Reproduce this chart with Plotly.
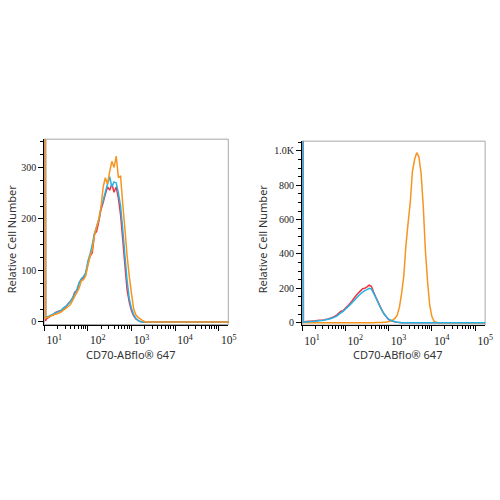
import plotly.graph_objects as go

# ---------------- data ----------------
# left panel: bin centres as log10 exponents of fluorescence
left_exp = [1.012, 1.03, 1.05, 1.10, 1.15, 1.20, 1.25, 1.30, 1.35, 1.40, 1.45, 1.50, 1.55,
            1.60, 1.65, 1.70, 1.75, 1.80, 1.85, 1.90, 1.95, 2.00, 2.05, 2.10, 2.15,
            2.20, 2.25, 2.30, 2.35, 2.40, 2.45, 2.50, 2.55, 2.60, 2.65, 2.70, 2.75,
            2.80, 2.85, 2.90, 2.95, 3.00, 3.05, 3.10, 3.15, 3.20, 3.25, 3.30, 3.35,
            3.40, 3.60, 4.00, 4.50, 5.00, 5.30]
left_red = [1500, 2, 6, 9, 12, 14, 18, 20, 22, 22, 26, 30, 36, 40, 46, 58, 60, 76, 82, 86,
            94, 112, 128, 134, 170, 176, 195, 218, 232, 248, 262, 256, 268, 252, 262,
            240, 208, 160, 110, 62, 38, 22, 12, 6, 3, 1, 0, 0, 0, 0, 0, 0, 0, 0, 0]
left_cyan = [1500, 8, 10, 11, 13, 15, 17, 19, 21, 24, 28, 31, 35, 40, 47, 55, 64, 76, 84,
             88, 96, 118, 132, 150, 172, 185, 198, 222, 236, 252, 268, 282, 262, 272,
             270, 250, 225, 180, 128, 80, 45, 26, 14, 7, 3, 1, 0, 0, 0, 0, 0, 0, 0, 0, 0]
left_orange = [1500, 6, 8, 10, 12, 13, 15, 16, 18, 20, 24, 27, 30, 34, 42, 50, 58, 66, 80,
               82, 90, 110, 128, 140, 168, 185, 200, 222, 262, 280, 268, 292, 312, 300,
               322, 280, 284, 228, 180, 128, 88, 55, 25, 14, 9, 6, 3, 1, 0, 0, 0, 0, 0, 0, 0]

# right panel
right_exp = [1.012, 1.03, 1.05, 1.10, 1.15, 1.20, 1.25, 1.30, 1.35, 1.40, 1.45, 1.50, 1.55,
             1.60, 1.65, 1.70, 1.75, 1.80, 1.85, 1.90, 1.95, 2.00, 2.05, 2.10, 2.15,
             2.20, 2.25, 2.30, 2.35, 2.40, 2.45, 2.50, 2.55, 2.60, 2.65, 2.70, 2.75,
             2.80, 2.85, 2.90, 2.95, 3.00, 3.05, 3.10, 3.15, 3.20, 3.25, 3.30, 3.35,
             3.40, 3.45, 3.50, 3.55, 3.60, 3.65, 3.70, 3.75, 3.80, 3.85, 3.90, 3.95,
             4.00, 4.05, 4.10, 4.15, 4.20, 4.50, 5.00, 5.30]
right_red = [3000, 2, 4, 6, 8, 8, 9, 10, 12, 14, 14, 16, 19, 22, 26, 30, 36, 44, 56, 66,
             70, 84, 96, 110, 124, 142, 158, 172, 185, 198, 200, 208, 218, 212, 180,
             150, 124, 96, 70, 48, 32, 18, 12, 8, 4, 2, 1, 0, 0, 0, 0, 0, 0, 0, 0, 0,
             0, 0, 0, 0, 0, 0, 0, 0, 0, 0, 0, 0, 0]
right_orange = [0, 0, 0, 0, 0, 0, 0, 0, 0, 0, 0, 0, 0, 0, 0, 0, 0, 0, 0, 0,
                0, 0, 0, 0, 0, 0, 0, 0, 0, 0, 0, 0, 0, 0, 0, 1, 1, 1, 1, 2,
                3, 5, 10, 16, 26, 45, 90, 170, 270, 450, 580, 700, 880, 950, 990, 965,
                870, 680, 420, 240, 100, 35, 8, 2, 0, 0, 0, 0, 0]
right_cyan = [3000, 2, 3, 4, 5, 6, 7, 8, 10, 11, 12, 14, 17, 20, 23, 27, 32, 38, 48, 58,
              66, 78, 90, 102, 115, 128, 142, 155, 168, 178, 186, 192, 200, 196, 172,
              148, 120, 94, 70, 50, 34, 20, 14, 10, 5, 2, 1, 0, 0, 0, 0, 0, 0, 0, 0, 0,
              0, 0, 0, 0, 0, 0, 0, 0, 0, 0, 0, 0, 0]

x_tick_vals = [10, 100, 1000, 10000, 100000]
x_tick_text = ["10<sup>1</sup>", "10<sup>2</sup>", "10<sup>3</sup>", "10<sup>4</sup>", "10<sup>5</sup>"]
left_y_ticks = [0, 100, 200, 300]
left_y_text = ["0", "100", "200", "300"]
right_y_ticks = [0, 200, 400, 600, 800, 1000]
right_y_text = ["0", "200", "400", "600", "800", "1.0K"]
x_title = "CD70-ABflo® 647"
y_title = "Relative Cell Number"

RED = "#ef3340"
CYAN = "#22b4e6"
ORANGE = "#f7941d"

def xs(exps):
    return [10 ** e for e in exps]

fig = go.Figure()
for ys, col in [(left_red, RED), (left_cyan, CYAN), (left_orange, ORANGE)]:
    fig.add_trace(go.Scatter(x=xs(left_exp), y=ys, mode="lines", xaxis="x", yaxis="y",
                             line=dict(color=col, width=1.5, simplify=False),
                             showlegend=False, hoverinfo="skip"))
for ys, col in [(right_red, RED), (right_orange, ORANGE), (right_cyan, CYAN)]:
    fig.add_trace(go.Scatter(x=xs(right_exp), y=ys, mode="lines", xaxis="x2", yaxis="y2",
                             line=dict(color=col, width=1.5, simplify=False),
                             showlegend=False, hoverinfo="skip"))

minor_vals = [m * 10 ** k for k in range(1, 6) for m in range(2, 10)]

tickfont_x = dict(family="Liberation Serif", size=11.5, color="#222")
tickfont_y = dict(family="Liberation Serif", size=10, color="#222")

def xaxis_cfg(domain, rng):
    return dict(domain=domain, type="log", range=rng, showline=True, linecolor="black",
                linewidth=1, ticks="outside", ticklen=5, tickcolor="black",
                tickmode="array", tickvals=x_tick_vals, ticktext=x_tick_text,
                tickfont=tickfont_x, ticklabelshift=10, showgrid=False, zeroline=False,
                layer="below traces",
                minor=dict(tickmode="array", tickvals=minor_vals, ticks="outside",
                           ticklen=3, tickcolor="black", showgrid=False))

def yaxis_cfg(domain, rng, vals, text, mdt, anchor):
    return dict(domain=domain, range=rng, showline=True, linecolor="black", linewidth=1,
                ticks="outside", ticklen=5, tickcolor="black", tickmode="array",
                tickvals=vals, ticktext=text, tickfont=tickfont_y, showgrid=False,
                zeroline=False, anchor=anchor, layer="below traces", ticklabelstandoff=0,
                minor=dict(dtick=mdt, tick0=0, ticks="outside", ticklen=3,
                           tickcolor="black", showgrid=False))

fig.update_layout(
    width=500, height=500, margin=dict(l=0, r=0, t=0, b=0),
    paper_bgcolor="white", plot_bgcolor="white",
    xaxis=xaxis_cfg([0.09, 0.464], [1.0, 5.22]) | dict(anchor="y"),
    yaxis=yaxis_cfg([0.347, 0.72], [-5, 355], left_y_ticks, left_y_text, 25, "x"),
    xaxis2=xaxis_cfg([0.614, 0.986], [1.0, 5.23]) | dict(anchor="y2"),
    yaxis2=yaxis_cfg([0.346, 0.716], [-14, 1057], right_y_ticks, right_y_text, 50, "x2"),
)

for xr, yr in [("x", "y"), ("x2", "y2")]:
    fig.add_shape(type="rect", xref=f"{xr} domain", yref=f"{yr} domain", x0=0, x1=1, y0=0, y1=1,
                  line=dict(color="#a8a8a8", width=1), layer="below")

title_font = dict(family="Noto Sans", size=11, color="#333")
common = dict(xref="paper", yref="paper", showarrow=False, font=title_font,
              xanchor="center", yanchor="middle")
fig.add_annotation(text=x_title, x=133 / 500, y=1 - 357 / 500, **common)
fig.add_annotation(text=x_title, x=404 / 500, y=1 - 357 / 500, **common)
fig.add_annotation(text=y_title, x=12 / 500, y=1 - 240 / 500, textangle=-90, **common)
fig.add_annotation(text=y_title, x=267 / 500, y=1 - 240 / 500, textangle=-90, **common)

fig.write_html("out.html")
